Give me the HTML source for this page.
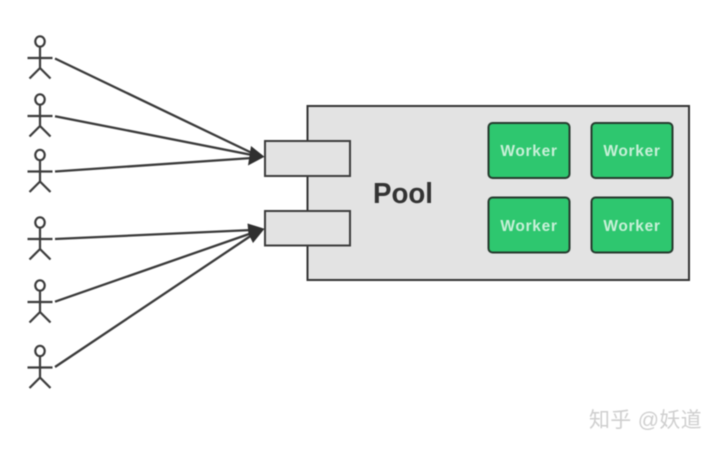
<!DOCTYPE html>
<html>
<head>
<meta charset="utf-8">
<style>
html,body{margin:0;padding:0;background:#fff;width:720px;height:449px;overflow:hidden}
svg{display:block;filter:blur(0.45px)}
</style>
</head>
<body>
<svg width="720" height="449" viewBox="0 0 720 449" xmlns="http://www.w3.org/2000/svg">
<defs>
<g id="actor" fill="none" stroke="#3c3c3c" stroke-width="2.200">
<ellipse cx="40" cy="-16.500" rx="4.700" ry="5.200"/>
<path d="M40-11V10M27.500 0H52.500M29.500 20.500L40 10L50.500 20.500"/>
</g>
</defs>
<rect width="720" height="449" fill="#fff"/>
<use href="#actor" y="58"/>
<use href="#actor" y="116"/>
<use href="#actor" y="171.500"/>
<use href="#actor" y="239"/>
<use href="#actor" y="302"/>
<use href="#actor" y="367.500"/>
<g stroke="#3a3a3a" stroke-width="2.300" fill="none">
<path d="M55 58.500L252 153M55 116.200L252 155M55 171.500L252 158"/>
<path d="M55 239L252 230M55 301.700L252 233M55 367L252 235"/>
</g>
<path d="M264.500 156.800L251 146L248 165.500Z" fill="#2f2f2f"/>
<path d="M264.500 228.800L247.500 223.500L248.500 234L253 243Z" fill="#2f2f2f"/>
<rect x="307.500" y="106" width="381.500" height="174" fill="#e3e3e3" stroke="#333" stroke-width="2"/>
<rect x="265" y="141" width="85" height="35" fill="#e3e3e3" stroke="#3c3c3c" stroke-width="2"/>
<rect x="265" y="211" width="85" height="34.500" fill="#e3e3e3" stroke="#3c3c3c" stroke-width="2"/>
<text x="373" y="203" font-family="'Liberation Sans',sans-serif" font-size="29" font-weight="700" fill="#333" textLength="60" lengthAdjust="spacingAndGlyphs">Pool</text>
<g fill="#2ec76f" stroke="#263a2e" stroke-width="2">
<rect x="488.500" y="123" width="81" height="55" rx="4"/>
<rect x="591.500" y="123" width="81" height="55" rx="4"/>
<rect x="488.500" y="197.500" width="81" height="55" rx="4"/>
<rect x="591.500" y="197.500" width="81" height="55" rx="4"/>
</g>
<g font-family="'Liberation Sans',sans-serif" font-size="15.500" font-weight="700" fill="#c8f0d8" text-anchor="middle" letter-spacing="0.700">
<text x="529" y="156">Worker</text>
<text x="632" y="156">Worker</text>
<text x="529" y="231">Worker</text>
<text x="632" y="231">Worker</text>
</g>
<text x="589" y="427" font-family="'Liberation Sans','Noto Sans CJK SC',sans-serif" font-size="21" fill="#cfcfcf" letter-spacing="0.300">知乎 @妖道</text>
</svg>
</body>
</html>
